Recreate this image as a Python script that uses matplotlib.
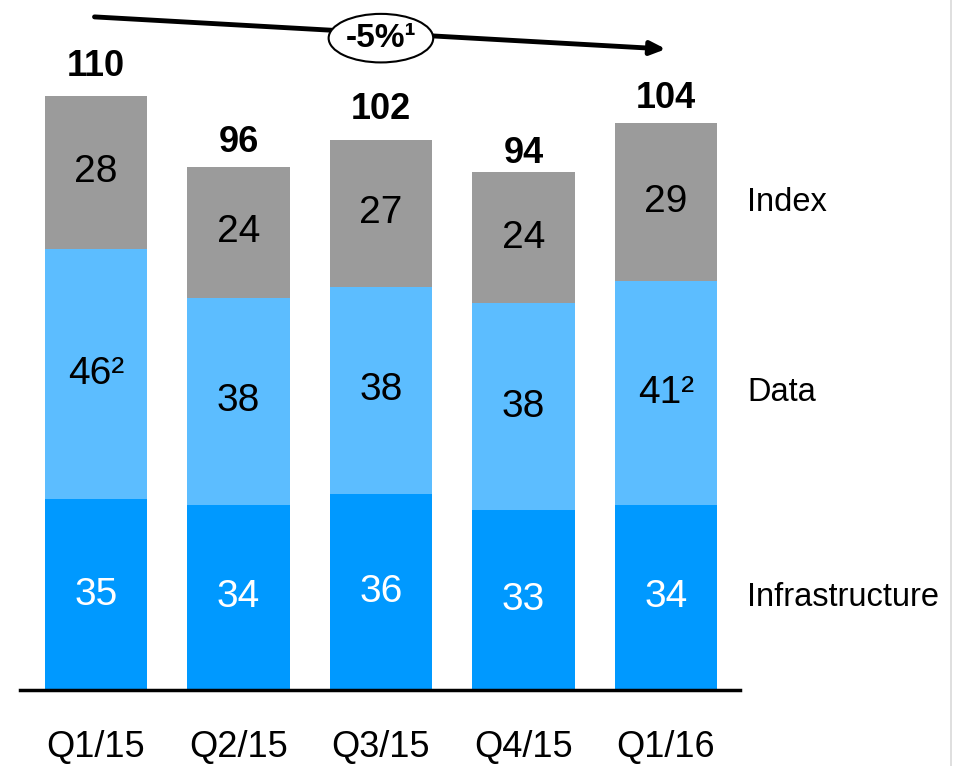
import matplotlib.pyplot as plt
import numpy as np
from matplotlib.lines import Line2D

plt.rcParams['font.family'] = ['Liberation Sans', 'DejaVu Sans']

# Data
quarters = ['Q1/15', 'Q2/15', 'Q3/15', 'Q4/15', 'Q1/16']
infrastructure = [35, 34, 36, 33, 34]
data = [46, 38, 38, 38, 41]
index = [28, 24, 27, 24, 29]
totals = [110, 96, 102, 94, 104]
data_labels = ['46²', '38', '38', '38', '41²']
segments = ['Infrastructure', 'Data', 'Index']
colors = ['#0099FF', '#5CBDFF', '#9B9B9B']

fig = plt.figure(figsize=(9.57, 7.66), dpi=100)
ax = fig.add_axes([20 / 957, 76 / 766, 720 / 957, 690 / 766])

x = np.arange(len(quarters))
width = 0.72
bottom = np.zeros(len(quarters))
series = [infrastructure, data, index]
labels = [[str(v) for v in infrastructure], data_labels, [str(v) for v in index]]
for vals, lab, col in zip(series, labels, colors):
    vals = np.array(vals)
    ax.bar(x, vals, width, bottom=bottom, color=col, edgecolor='none')
    txt_color = 'white' if col == colors[0] else 'black'
    for xi, b, v, l in zip(x, bottom, vals, lab):
        ax.text(xi, b + v / 2, l, ha='center', va='center', fontsize=28, color=txt_color)
    bottom += vals

# totals on top
for xi, t in zip(x, totals):
    ax.annotate(str(t), (xi, t), xytext=(0, 5), textcoords='offset points',
                ha='center', va='bottom', fontsize=26, fontweight='bold')

# segment names to the right of the last bar
cum = 0
for name, vals in zip(segments, series):
    ax.text(4.57, cum + vals[-1] / 2, name, ha='left', va='center', fontsize=23.5,
            clip_on=False)
    cum += vals[-1]

ax.set_xlim(-0.533, 4.52)
ax.set_ylim(0, 126.6)
ax.set_xticks(x)
ax.set_xticklabels(quarters, fontsize=26)
ax.tick_params(axis='x', length=0, pad=29)
ax.set_yticks([])
for s in ['top', 'right', 'left']:
    ax.spines[s].set_visible(False)
ax.spines['bottom'].set_linewidth(2.5)

# trend arrow with CAGR bubble
ax.annotate('', xy=(4.0, 117.6), xytext=(-0.01, 123.5),
            arrowprops=dict(arrowstyle='-|>,head_length=0.9,head_width=0.4',
                            lw=3.5, color='black', shrinkA=0, shrinkB=0),
            annotation_clip=False)
ax.text(2.0, 119.6, '-5%¹', ha='center', va='center', fontsize=24, fontweight='bold',
        bbox=dict(boxstyle='ellipse,pad=0.05', fc='white', ec='black', lw=1.5),
        clip_on=False)

# thin separator on the right edge
fig.add_artist(Line2D([951 / 957, 951 / 957], [0, 1], color='#D9D9D9', lw=1.2))

fig.savefig('out.png', dpi=100)
plt.close()
